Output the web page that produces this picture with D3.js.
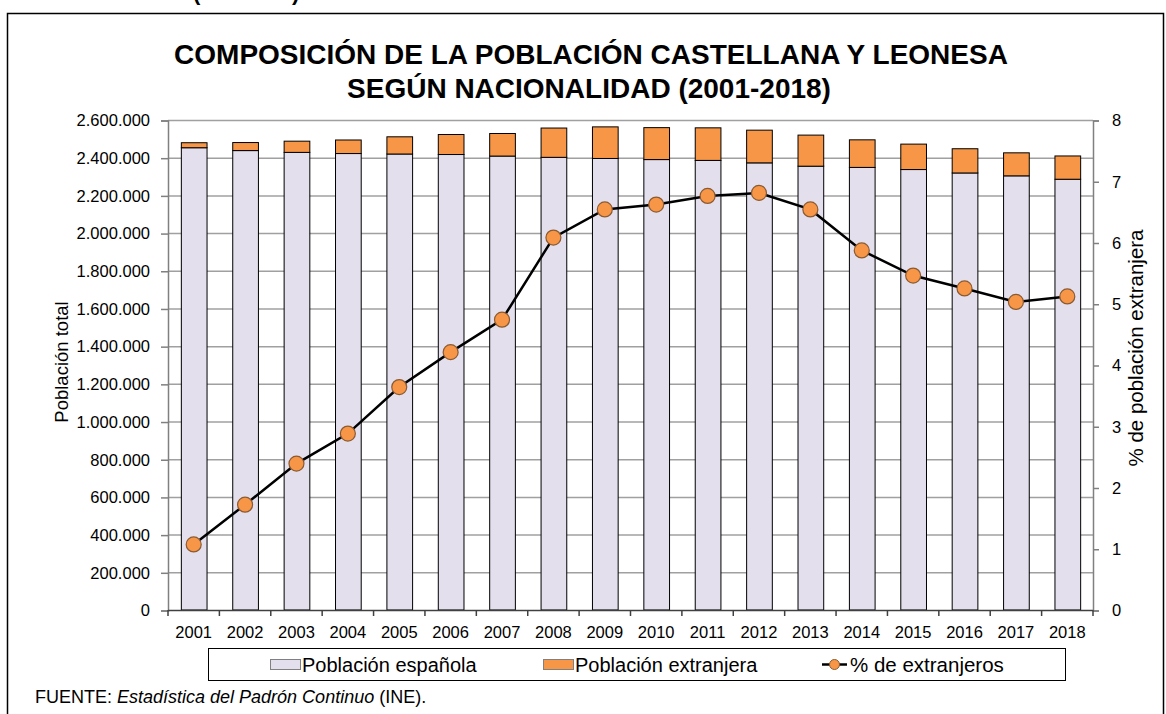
<!DOCTYPE html>
<html>
<head>
<meta charset="utf-8">
<script src="https://cdn.jsdelivr.net/npm/d3@7"></script>
<style>
  body { margin: 0; background: #fff; }
  svg { display: block; font-family: Arial, "Liberation Sans", sans-serif; }
</style>
</head>
<body>
<div id="chart"></div>
<script>
// data
var years = ["2001","2002","2003","2004","2005","2006","2007","2008","2009","2010",
             "2011","2012","2013","2014","2015","2016","2017","2018"];
var espanola = [2452854, 2437729, 2428206, 2422071, 2419531, 2416861, 2408636, 2401872, 2395880, 2390017,
                2385591, 2372569, 2354980, 2348410, 2337131, 2318967, 2303667, 2285701];
var extranjera = [26571, 42640, 59440, 71847, 91318, 106159, 119781, 155458, 167641, 169498,
                  172872, 173509, 164895, 146380, 134921, 128552, 122134, 123463];
var pctExtranjeros = [1.07, 1.72, 2.39, 2.88, 3.64, 4.21, 4.74, 6.08, 6.54, 6.62,
                      6.76, 6.81, 6.54, 5.87, 5.46, 5.25, 5.03, 5.12];
var leftTicks = [0, 200000, 400000, 600000, 800000, 1000000, 1200000, 1400000, 1600000,
                 1800000, 2000000, 2200000, 2400000, 2600000];
var rightTicks = [0, 1, 2, 3, 4, 5, 6, 7, 8];

var W = 1166, H = 714;
var pLeft = 168, pRight = 1093, pTop = 120, pBottom = 610;
var cLav = "#e3dfec", cOrange = "#f79646", cGrid = "#a0a0a0";

var svg = d3.select("#chart").append("svg").attr("width", W).attr("height", H);

// cut-off caption at the very top
svg.append("text").attr("x", 193).attr("y", 0).attr("font-size", 22).attr("font-weight", "bold")
  .text("(continúa)");

// outer frame
svg.append("path").attr("d", "M7.5," + H + "V13.5H1163.5V" + H)
  .attr("fill", "none").attr("stroke", "#000").attr("stroke-width", 1.5);

// title
var title = svg.append("text").attr("text-anchor", "middle").attr("font-size", 28)
  .attr("font-weight", "bold").attr("fill", "#000");
title.append("tspan").attr("x", 591).attr("y", 64).text("COMPOSICIÓN DE LA POBLACIÓN CASTELLANA Y LEONESA");
title.append("tspan").attr("x", 589).attr("y", 98).text("SEGÚN NACIONALIDAD (2001-2018)");

var x = d3.scaleBand().domain(years).range([pLeft, pRight]).paddingInner(0.5).paddingOuter(0.25);
var y = d3.scaleLinear().domain([0, 2600000]).range([pBottom, pTop]);
var y2 = d3.scaleLinear().domain([0, 8]).range([pBottom, pTop]);

var fmt = function (d) { return d3.format(",")(d).replace(/,/g, "."); };

// gridlines
svg.append("g").selectAll("line").data(leftTicks.filter(function (d) { return d > 0; }))
  .enter().append("line")
  .attr("x1", pLeft).attr("x2", pRight)
  .attr("y1", function (d) { return y(d) + 0.5; }).attr("y2", function (d) { return y(d) + 0.5; })
  .attr("stroke", cGrid).attr("stroke-width", 1.5);

// left axis
var gy = svg.append("g").attr("transform", "translate(" + pLeft + ",0.5)")
  .call(d3.axisLeft(y).tickValues(leftTicks).tickFormat(fmt).tickSize(7).tickPadding(11));
gy.select(".domain").attr("stroke", "#808080").attr("stroke-width", 1.5);
gy.selectAll(".tick line").attr("stroke", "#808080").attr("stroke-width", 1.5);
gy.selectAll("text").attr("font-size", 16.5).attr("fill", "#000");
gy.attr("font-family", null);

// right axis
var gr = svg.append("g").attr("transform", "translate(" + pRight + ",0.5)")
  .call(d3.axisRight(y2).tickValues(rightTicks).tickSize(6).tickPadding(13));
gr.select(".domain").attr("stroke", "#808080").attr("stroke-width", 1.5);
gr.selectAll(".tick line").attr("stroke", "#808080").attr("stroke-width", 1.5);
gr.selectAll("text").attr("font-size", 16.5).attr("fill", "#000");
gr.attr("font-family", null);

// bars
var stack = years.map(function (yr, i) { return { year: yr, esp: espanola[i], ext: extranjera[i] }; });
var bars = svg.append("g");
bars.selectAll("rect.esp").data(stack).enter().append("rect").attr("class", "esp")
  .attr("x", function (d) { return x(d.year) + 0.5; })
  .attr("width", x.bandwidth())
  .attr("y", function (d) { return y(d.esp); })
  .attr("height", function (d) { return pBottom - y(d.esp); })
  .attr("fill", cLav).attr("stroke", "#000").attr("stroke-width", 1);
bars.selectAll("rect.ext").data(stack).enter().append("rect").attr("class", "ext")
  .attr("x", function (d) { return x(d.year) + 0.5; })
  .attr("width", x.bandwidth())
  .attr("y", function (d) { return y(d.esp + d.ext); })
  .attr("height", function (d) { return y(d.esp) - y(d.esp + d.ext); })
  .attr("fill", cOrange).attr("stroke", "#000").attr("stroke-width", 1);

// x axis
var step = x.step();
svg.append("line").attr("x1", pLeft).attr("x2", pRight).attr("y1", pBottom + 0.5).attr("y2", pBottom + 0.5)
  .attr("stroke", "#404040").attr("stroke-width", 1.5);
svg.append("g").selectAll("line").data(d3.range(years.length + 1)).enter().append("line")
  .attr("x1", function (i) { return pLeft + i * step; }).attr("x2", function (i) { return pLeft + i * step; })
  .attr("y1", pBottom).attr("y2", pBottom + 6).attr("stroke", "#404040").attr("stroke-width", 1.5);
svg.append("g").selectAll("text").data(years).enter().append("text")
  .attr("x", function (d) { return x(d) + x.bandwidth() / 2; })
  .attr("y", 638).attr("text-anchor", "middle").attr("font-size", 16.5).text(function (d) { return d; });

// line of percentage
var cx = function (i) { return x(years[i]) + x.bandwidth() / 2; };
var line = d3.line().x(function (d, i) { return cx(i); }).y(function (d) { return y2(d); });
svg.append("path").datum(pctExtranjeros).attr("d", line)
  .attr("fill", "none").attr("stroke", "#000").attr("stroke-width", 2.5);
svg.append("g").selectAll("circle").data(pctExtranjeros).enter().append("circle")
  .attr("cx", function (d, i) { return cx(i); }).attr("cy", function (d) { return y2(d); })
  .attr("r", 7.5).attr("fill", cOrange).attr("stroke", "#8a5a32").attr("stroke-width", 1.2);

// axis titles
svg.append("text").attr("transform", "translate(68,362) rotate(-90)").attr("text-anchor", "middle")
  .attr("font-size", 18.5).text("Población total");
svg.append("text").attr("transform", "translate(1143,348) rotate(-90)").attr("text-anchor", "middle")
  .attr("font-size", 20.5).text("% de población extranjera");

// legend
var lg = svg.append("g");
lg.append("rect").attr("x", 208.5).attr("y", 648.5).attr("width", 857).attr("height", 32)
  .attr("fill", "#fff").attr("stroke", "#000").attr("stroke-width", 1);
lg.append("rect").attr("x", 270.5).attr("y", 659.5).attr("width", 30).attr("height", 10)
  .attr("fill", cLav).attr("stroke", "#808080");
lg.append("text").attr("x", 302).attr("y", 671.5).attr("font-size", 20).text("Población española");
lg.append("rect").attr("x", 543.5).attr("y", 659.5).attr("width", 30).attr("height", 10)
  .attr("fill", cOrange).attr("stroke", "#808080");
lg.append("text").attr("x", 575).attr("y", 671.5).attr("font-size", 20).text("Población extranjera");
lg.append("line").attr("x1", 822).attr("x2", 847).attr("y1", 664.5).attr("y2", 664.5)
  .attr("stroke", "#000").attr("stroke-width", 2.5);
lg.append("circle").attr("cx", 834.5).attr("cy", 664.5).attr("r", 5)
  .attr("fill", cOrange).attr("stroke", "#8a5a32").attr("stroke-width", 1);
lg.append("text").attr("x", 850).attr("y", 671.5).attr("font-size", 20.5).text("% de extranjeros");

// source
var src = svg.append("text").attr("x", 35).attr("y", 703).attr("font-size", 18);
src.append("tspan").text("FUENTE:  ");
src.append("tspan").attr("font-style", "italic").text("Estadística del Padrón Continuo");
src.append("tspan").text(" (INE).");
</script>
</body>
</html>
